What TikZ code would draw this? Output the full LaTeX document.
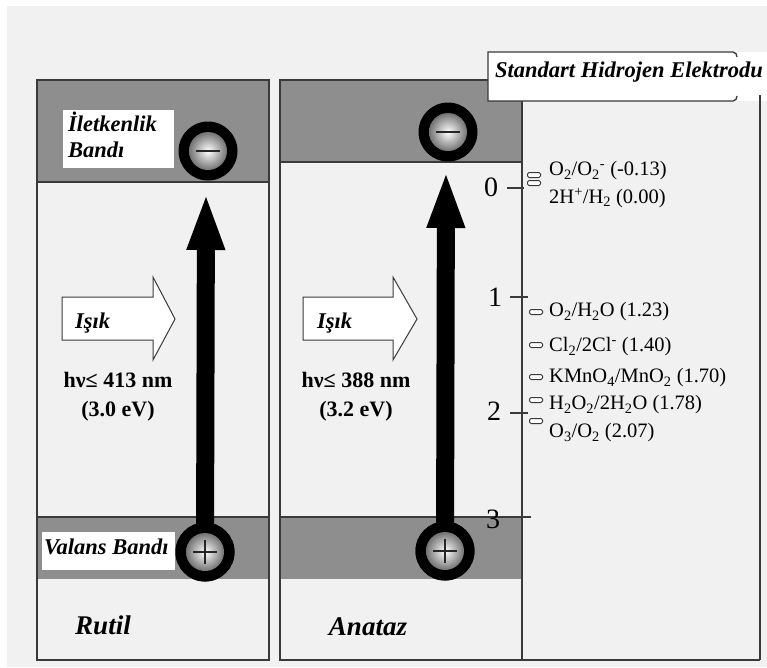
\documentclass[tikz,border=0pt]{standalone}
\usepackage{fontspec}
\setmainfont{Liberation Serif}
\usetikzlibrary{arrows.meta,calc}
\definecolor{bg}{HTML}{F1F1F1}
\definecolor{bandgray}{HTML}{8E8E8E}
\definecolor{edge}{HTML}{3A3A3A}
\tikzset{
  panel/.style={draw=edge, line width=1.4pt, fill=bg},
  bandfill/.style={fill=bandgray, draw=none},
  lblbox/.style={fill=white, draw=none},
  ital/.style={font=\fontsize{22.5}{26}\selectfont\bfseries\itshape, inner sep=0pt},
  bigital/.style={font=\fontsize{27}{30}\selectfont\bfseries\itshape, inner sep=0pt},
  num/.style={font=\fontsize{28}{30}\selectfont, inner sep=0pt},
  redox/.style={font=\fontsize{20.5}{22}\selectfont, inner sep=0pt, anchor=west},
  energy/.style={font=\fontsize{22}{24}\selectfont\bfseries, inner sep=0pt},
  redoxmark/.style={draw=edge, fill=white, rounded corners=1.5pt, minimum width=13pt, minimum height=5pt, inner sep=0pt, line width=1pt},
  lightarrow/.style={draw=edge, fill=white, line width=1pt, line join=miter},
  carrier/.style={circle, fill=black, minimum size=59pt, inner sep=0pt},
  bigarrow/.style={line width=18pt, -{Triangle[width=34pt,length=58pt]}},
  axisline/.style={draw=edge, line width=1.4pt},
}
\begin{document}
\begin{tikzpicture}[x=1pt,y=-1pt]
\useasboundingbox (0,0) rectangle (767,667);
\clip (0,0) rectangle (767,667);
\fill[white] (0,0) rectangle (767,667);
\fill[bg] (7,6) rectangle (767,667);

% panels
\draw[panel] (37,80) rectangle (269,660);
\draw[panel] (280,80) rectangle (522,660);
\draw[axisline] (522,660) -- (760,660);
% bands
\fill[bandfill] (38,81) rectangle (268,182);
\fill[bandfill] (281,81) rectangle (521,162);
\fill[bandfill] (38,517) rectangle (268,579);
\fill[bandfill] (281,517) rectangle (521,579);
\draw[edge, line width=1.2pt] (38,182) -- (268,182);
\draw[edge, line width=1.2pt] (281,162) -- (521,162);
\draw[edge, line width=1.2pt] (38,517) -- (268,517);
\draw[edge, line width=1.2pt] (281,517) -- (531,517);

% light arrows
\draw[lightarrow] (62,297) -- (153,297) -- (153,277) -- (175,319) -- (153,360) -- (153,340) -- (62,340) -- cycle;
\draw[lightarrow] (303,297) -- (393,297) -- (393,277) -- (417,319) -- (393,360) -- (393,340) -- (303,340) -- cycle;
\node[ital, anchor=base west] (isik1) at (75,328) {Işık};
\node[ital, anchor=base west] (isik2) at (317,328) {Işık};
\node[energy] (hv1) at (118,380) {hν≤ 413 nm};
\node[energy] (ev1) at (118,411) {(3.0 eV)};
\node[energy] (hv2) at (356,380) {hν≤ 388 nm};
\node[energy] (ev2) at (356,411) {(3.2 eV)};

% carriers
\coordinate (tip1) at (206,192);
\coordinate (tip2) at (446,170);
\node[carrier] (h1) at (205,552) {};
\node[carrier] (h2) at (445,551) {};
\draw[bigarrow] (h1.center) -- (tip1);
\draw[bigarrow] (h2.center) -- (tip2);
\node[carrier] (e1) at (208,151) {};
\node[carrier] (e2) at (448,132) {};
\node[carrier] (h1b) at (205,552) {};
\node[carrier] (h2b) at (445,551) {};
\foreach \c in {e1,e2,h1b,h2b}{
  \shade[inner color=white, outer color=black!55] (\c) circle (19pt);
}
\foreach \c in {e1,e2}{
  \draw[line width=2.6pt, black!85] ($(\c)+(-12,0)$) -- ($(\c)+(12,0)$);
}
\foreach \c in {h1b,h2b}{
  \draw[line width=1.5pt, black!85] ($(\c)+(-12,0)$) -- ($(\c)+(12,0)$);
  \draw[line width=1.5pt, black!85] ($(\c)+(0,-12)$) -- ($(\c)+(0,12)$);
}

% band labels
\fill[lblbox] (63,110) rectangle (174,168);
\node[ital, anchor=base west] (cb1) at (68,131) {İletkenlik};
\node[ital, anchor=base west] (cb2) at (68,157) {Bandı};
\fill[lblbox] (42,532) rectangle (175,570);
\node[ital, anchor=base west] (vb) at (44,554) {Valans Bandı};

\node[bigital] (rutil) at (103,625) {Rutil};
\node[bigital] (anataz) at (368,627) {Anataz};

% SHE box
\fill[white] (488,52) rectangle (767,101);
\draw[edge, line width=1.3pt] (737,57) to[out=90,in=0] (733,52) -- (488,52) -- (488,101) -- (733,101) to[out=0,in=-90] (737,96);
\node[ital, anchor=base west] (she) at (495,77) {Standart Hidrojen Elektrodu};
\draw[axisline] (760,95) -- (760,660);

% axis
\draw[axisline] (522,162) -- (522,660);
\draw[axisline] (507,188) -- (524,188);
\draw[axisline] (510,297) -- (528,297);
\draw[axisline] (510,413) -- (528,413);
\node[num] (n0) at (491,187) {0};
\node[num] (n1) at (495,297) {1};
\node[num] (n2) at (494,411) {2};
\node[num] (n3) at (493,519) {3};

% redox couples
\node[redoxmark] (m1) at (534,175) {};
\node[redoxmark] (m2) at (534,183) {};
\node[redoxmark] (m3) at (536,312) {};
\node[redoxmark] (m4) at (536,345) {};
\node[redoxmark] (m5) at (536,377) {};
\node[redoxmark] (m6) at (536,400) {};
\node[redoxmark] (m7) at (536,421) {};
\node[redox] (l1) at (549,171) {O\textsubscript{2}/O\textsubscript{2}\textsuperscript{-} (-0.13)};
\node[redox] (l2) at (549,198) {2H\textsuperscript{+}/H\textsubscript{2} (0.00)};
\node[redox] (l3) at (549,312) {O\textsubscript{2}/H\textsubscript{2}O (1.23)};
\node[redox] (l4) at (549,347) {Cl\textsubscript{2}/2Cl\textsuperscript{-} (1.40)};
\node[redox] (l5) at (549,378) {KMnO\textsubscript{4}/MnO\textsubscript{2} (1.70)};
\node[redox] (l6) at (549,405) {H\textsubscript{2}O\textsubscript{2}/2H\textsubscript{2}O (1.78)};
\node[redox] (l7) at (549,433) {O\textsubscript{3}/O\textsubscript{2} (2.07)};
\end{tikzpicture}
\end{document}
